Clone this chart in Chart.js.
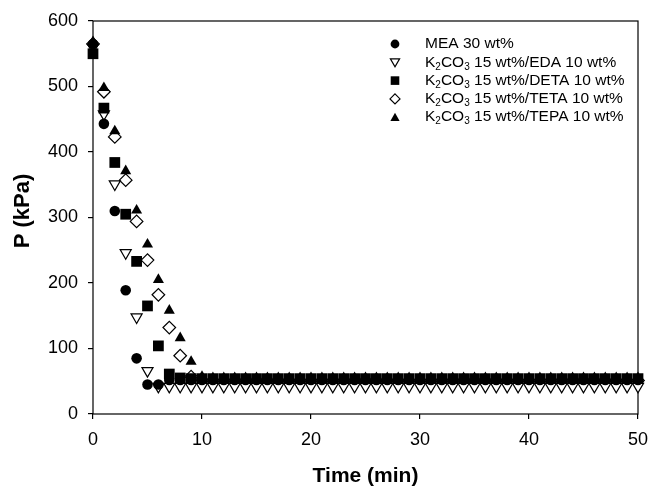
<!DOCTYPE html>
<html lang="en">
<head>
<meta charset="UTF-8">
<title>Pressure vs time</title>
<script src="https://cdn.jsdelivr.net/npm/chart.js"></script>
<style>
  html, body { margin: 0; padding: 0; background: #fff; overflow: hidden; }
  #wrap { width: 648px; height: 486px; overflow: hidden; }
</style>
</head>
<body>
<div id="wrap"><canvas id="chart" width="660" height="486"></canvas></div>
<script>
// time in minutes
const times = [0, 1, 2, 3, 4, 5, 6, 7, 8, 9, 10, 11, 12, 13, 14, 15, 16, 17, 18, 19, 20,
  21, 22, 23, 24, 25, 26, 27, 28, 29, 30, 31, 32, 33, 34, 35, 36, 37, 38, 39, 40,
  41, 42, 43, 44, 45, 46, 47, 48, 49, 50];

// pressure in kPa
const mea  = [565, 443, 310, 189, 85, 45, 45, 52, 52, 52, 52, 52, 52, 52, 52, 52, 52, 52, 52, 52, 52,
  52, 52, 52, 52, 52, 52, 52, 52, 52, 52, 52, 52, 52, 52, 52, 52, 52, 52, 52, 52,
  52, 52, 52, 52, 52, 52, 52, 52, 52, 52];
const eda  = [560, 458, 351, 246, 148, 66, 42, 42, 42, 42, 42, 42, 42, 42, 42, 42, 42, 42, 42, 42, 42,
  42, 42, 42, 42, 42, 42, 42, 42, 42, 42, 42, 42, 42, 42, 42, 42, 42, 42, 42, 42,
  42, 42, 42, 42, 42, 42, 42, 42, 42, 42];
const deta = [550, 467, 384, 305, 233, 165, 104, 61, 55, 54, 54, 54, 54, 54, 54, 54, 54, 54, 54, 54, 54,
  54, 54, 54, 54, 54, 54, 54, 54, 54, 54, 54, 54, 54, 54, 54, 54, 54, 54, 54, 54,
  54, 54, 54, 54, 54, 54, 54, 54, 54, 54];
const teta = [565, 492, 423, 357, 294, 235, 182, 132, 89, 57, 52, 51, 51, 51, 51, 51, 51, 51, 51, 51, 51,
  51, 51, 51, 51, 51, 51, 51, 51, 51, 51, 51, 51, 51, 51, 51, 51, 51, 51, 51, 51,
  51, 51, 51, 51, 51, 51, 51, 51, 51, 51];
const tepa = [568, 498, 432, 371, 311, 259, 205, 158, 116, 80, 57, 55, 55, 55, 55, 55, 55, 55, 55, 55, 55,
  55, 55, 55, 55, 55, 55, 55, 55, 55, 55, 55, 55, 55, 55, 55, 55, 55, 55, 55, 55,
  55, 55, 55, 55, 55, 55, 55, 55, 55, 55];

const legendLabels = ['MEA 30 wt%', 'K₂CO₃ 15 wt%/EDA 10 wt%', 'K₂CO₃ 15 wt%/DETA 10 wt%',
  'K₂CO₃ 15 wt%/TETA 10 wt%', 'K₂CO₃ 15 wt%/TEPA 10 wt%'];
const yTitle = 'P (kPa)';

const FONT = "'Liberation Sans', Arial, sans-serif";

function pts(vals) {
  return vals.map((v, i) => ({ x: times[i], y: v }));
}

const styles = [
  { shape: 'circle', filled: true, r: 5.3 },
  { shape: 'triangle', rot: 180, filled: false, r: 6.4 },
  { shape: 'rect', filled: true, r: 7.6 },
  { shape: 'rectRot', filled: false, r: 6.3 },
  { shape: 'triangle', rot: 0, filled: true, r: 6.4 }
];
const seriesData = [mea, eda, deta, teta, tepa];

// small marker drawer for the legend
function legendMarker(ctx, st, x, y) {
  ctx.beginPath();
  if (st.shape === 'circle') {
    ctx.arc(x, y, 4.4, 0, Math.PI * 2);
  } else if (st.shape === 'rect') {
    ctx.rect(x - 4.3, y - 4.3, 8.6, 8.6);
  } else if (st.shape === 'rectRot') {
    ctx.moveTo(x, y - 5); ctx.lineTo(x + 5, y); ctx.lineTo(x, y + 5); ctx.lineTo(x - 5, y);
    ctx.closePath();
  } else if (st.rot === 180) {
    ctx.moveTo(x - 4.6, y - 3.5); ctx.lineTo(x + 4.6, y - 3.5); ctx.lineTo(x, y + 4.5);
    ctx.closePath();
  } else {
    ctx.moveTo(x - 4.6, y + 3.8); ctx.lineTo(x + 4.6, y + 3.8); ctx.lineTo(x, y - 4.5);
    ctx.closePath();
  }
  if (st.filled) {
    ctx.fillStyle = '#000'; ctx.fill();
  } else {
    ctx.fillStyle = '#fff'; ctx.fill();
    ctx.lineWidth = 1.2; ctx.strokeStyle = '#000'; ctx.stroke();
  }
}

// text with the unicode subscript digits drawn as small lowered digits
function drawLabel(ctx, text, x, y) {
  const subs = { '₂': '2', '₃': '3' };
  let cx = x;
  let buf = '';
  const flush = () => {
    if (!buf) return;
    ctx.font = '15.5px ' + FONT;
    ctx.fillText(buf, cx, y);
    cx += ctx.measureText(buf).width;
    buf = '';
  };
  for (const ch of text) {
    if (subs[ch]) {
      flush();
      ctx.font = '10px ' + FONT;
      ctx.fillText(subs[ch], cx, y + 4.5);
      cx += ctx.measureText(subs[ch]).width;
    } else {
      buf += ch;
    }
  }
  flush();
}

const framePlugin = {
  id: 'frame',
  beforeDatasetsDraw(chart) {
    const { ctx, chartArea: a } = chart;
    ctx.save();
    ctx.strokeStyle = '#000';
    ctx.lineWidth = 1.2;
    ctx.strokeRect(a.left, a.top, a.right - a.left, a.bottom - a.top);
    // y axis title
    ctx.translate(23, 211);
    ctx.rotate(-Math.PI / 2);
    ctx.font = 'bold 22px ' + FONT;
    ctx.fillStyle = '#000';
    ctx.textAlign = 'center';
    ctx.textBaseline = 'middle';
    ctx.fillText(yTitle, 0, 0);
    ctx.restore();
  }
};

const legendPlugin = {
  id: 'ownLegend',
  afterDraw(chart) {
    const ctx = chart.ctx;
    ctx.save();
    ctx.textBaseline = 'middle';
    ctx.textAlign = 'left';
    legendLabels.forEach((lab, i) => {
      const y = 44 + 18.3 * i;
      legendMarker(ctx, styles[i], 395, y);
      ctx.fillStyle = '#000';
      drawLabel(ctx, lab, 425, y);
    });
    ctx.restore();
  }
};

const datasets = seriesData.map((vals, i) => {
  const st = styles[i];
  return {
    label: legendLabels[i],
    data: pts(vals),
    showLine: false,
    pointStyle: st.shape,
    rotation: st.rot || 0,
    pointRadius: st.r,
    pointHoverRadius: st.r,
    pointBackgroundColor: st.filled ? '#000' : '#fff',
    pointBorderColor: '#000',
    pointBorderWidth: st.filled ? 0 : 1.2,
    order: st.filled ? 0 : 1,
    clip: false
  };
});

const axisCommon = {
  type: 'linear',
  border: { display: false },
  grid: { display: true, drawOnChartArea: false, drawTicks: true, tickLength: 5, color: '#000', lineWidth: 1.2 },
};

new Chart(document.getElementById('chart').getContext('2d'), {
  type: 'scatter',
  data: { datasets },
  options: {
    responsive: false,
    animation: false,
    events: [],
    layout: { padding: { top: 21, right: 22, left: 0, bottom: 0 } },
    plugins: { legend: { display: false }, tooltip: { enabled: false } },
    scales: {
      x: {
        ...axisCommon,
        position: 'bottom',
        min: 0, max: 50,
        ticks: { stepSize: 10, color: '#000', padding: 10, font: { family: FONT, size: 18 } },
        title: { display: true, text: 'Time (min)', color: '#000', padding: { top: 0, bottom: -3 },
          font: { family: FONT, size: 21, weight: 'bold' } },
        afterFit(s) { s.height = 72; }
      },
      y: {
        ...axisCommon,
        position: 'left',
        min: 0, max: 600,
        ticks: { stepSize: 100, color: '#000', padding: 10, font: { family: FONT, size: 18 } },
        afterFit(s) { s.width = 93; }
      }
    }
  },
  plugins: [framePlugin, legendPlugin]
});
</script>
</body>
</html>
